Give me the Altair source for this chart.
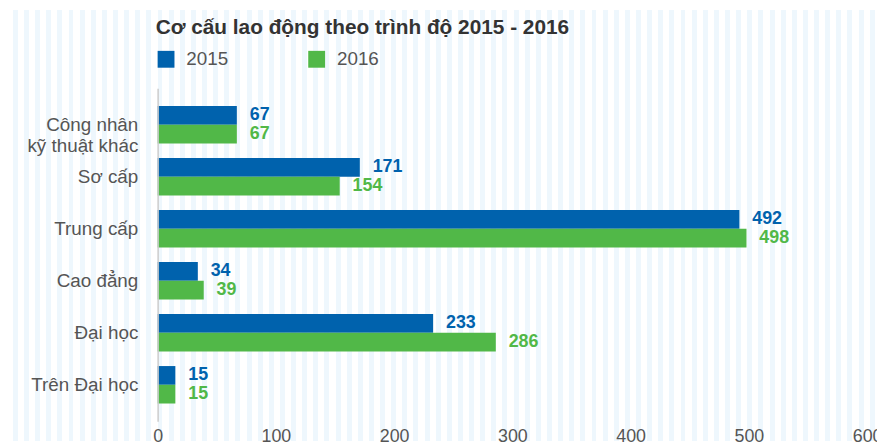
import altair as alt
import pandas as pd

# ---- data ----
categories = ["Công nhân\nkỹ thuật khác", "Sơ cấp", "Trung cấp", "Cao đẳng", "Đại học", "Trên Đại học"]
years = ["2015", "2016"]
values_2015 = [67, 171, 492, 34, 233, 15]
values_2016 = [67, 154, 498, 39, 286, 15]
x_ticks = [0, 100, 200, 300, 400, 500, 600]
title_text = "Cơ cấu lao động theo trình độ 2015 - 2016"

# ---- style ----
colors = ["#0062ad", "#51b848"]
FONT = "Liberation Sans"
PAD_L, PAD_T, PAD_R, PAD_B = 151, 79, 10, 20
W, H = 716, 336
CANVAS_W = PAD_L + W + PAD_R
CANVAS_H = PAD_T + H + PAD_B

rows = []
for c, a, b in zip(categories, values_2015, values_2016):
    rows.append({"cat": c, "year": years[0], "value": a})
    rows.append({"cat": c, "year": years[1], "value": b})
df = pd.DataFrame(rows)

# striped page background (decorative)
stripe_color = "#eef7fd"
period, stripe_w, first = 11.23, 5.0, -6.3
stops = []
k = 0
while True:
    s = first + period * k
    k += 1
    if s >= CANVAS_W:
        break
    e = s + stripe_w
    if e <= 0:
        continue
    s0 = max(s, 0) / CANVAS_W
    e0 = min(e, CANVAS_W) / CANVAS_W
    stops += [
        alt.GradientStop(offset=s0, color="#ffffff"),
        alt.GradientStop(offset=s0, color=stripe_color),
        alt.GradientStop(offset=e0, color=stripe_color),
        alt.GradientStop(offset=e0, color="#ffffff"),
    ]
grad = alt.Gradient(gradient="linear", x1=0, x2=1, y1=0, y2=0, stops=stops)

bg = alt.Chart(pd.DataFrame({"k": [0]})).mark_rect(fill=grad, clip=False).encode(
    x=alt.value(-PAD_L), x2=alt.value(W + PAD_R),
    y=alt.value(-PAD_T), y2=alt.value(H + PAD_B),
)

title = alt.Chart(pd.DataFrame({"t": [title_text]})).mark_text(
    align="left", baseline="alphabetic", fontSize=21, fontWeight="bold",
    font=FONT, color="#333333", clip=False,
).encode(x=alt.value(-2), y=alt.value(-55), text="t:N")

color_scale = alt.Scale(domain=years, range=colors)

y_enc = alt.Y(
    "cat:N", sort=categories,
    scale=alt.Scale(paddingInner=0.28, paddingOuter=0.34),
    axis=alt.Axis(
        title=None, ticks=False, domain=True, domainColor="#cccccc", domainWidth=1.5,
        labelPadding=20, labelFontSize=19, labelColor="#555555", labelFont=FONT,
        labelLineHeight=22, labelExpr="split(datum.label, '\\n')", labelLimit=300,
        zindex=1,
    ),
)
yoff_enc = alt.YOffset("year:N", sort=years, scale=alt.Scale(paddingInner=0, paddingOuter=0))
x_enc = alt.X(
    "value:Q",
    scale=alt.Scale(domain=[0, 600], nice=False, zero=True),
    axis=alt.Axis(
        title=None, values=x_ticks, grid=False, domain=False, ticks=False,
        labelFlush=False, labelPadding=6, labelFontSize=18, labelColor="#555555",
        labelFont=FONT, zindex=1,
    ),
)

bars = alt.Chart(df).mark_bar().encode(
    x=x_enc, y=y_enc, yOffset=yoff_enc,
    color=alt.Color(
        "year:N", scale=color_scale, sort=years,
        legend=alt.Legend(
            title=None, orient="none", legendX=-1, legendY=-39, direction="horizontal",
            symbolType="square", symbolSize=289, symbolStrokeWidth=0, symbolOpacity=1,
            labelFontSize=19, labelColor="#555555", labelFont=FONT, labelOffset=11,
            columnPadding=79, padding=0, zindex=1,
        ),
    ),
)

labels = alt.Chart(df).mark_text(
    align="left", baseline="middle", dx=13, fontWeight="bold", fontSize=18, font=FONT,
).encode(
    x="value:Q", y=alt.Y("cat:N", sort=categories), yOffset=alt.YOffset("year:N", sort=years),
    text="value:Q",
    color=alt.Color("year:N", scale=color_scale, legend=None),
)

chart = alt.layer(bg, title, bars, labels).properties(
    width=W, height=H,
    autosize=alt.AutoSizeParams(type="none"),
    padding={"left": PAD_L, "top": PAD_T, "right": PAD_R, "bottom": PAD_B},
).configure_view(stroke=None).configure(background="#ffffff")

chart.save("out.html", embed_options={"renderer": "svg", "actions": False})
